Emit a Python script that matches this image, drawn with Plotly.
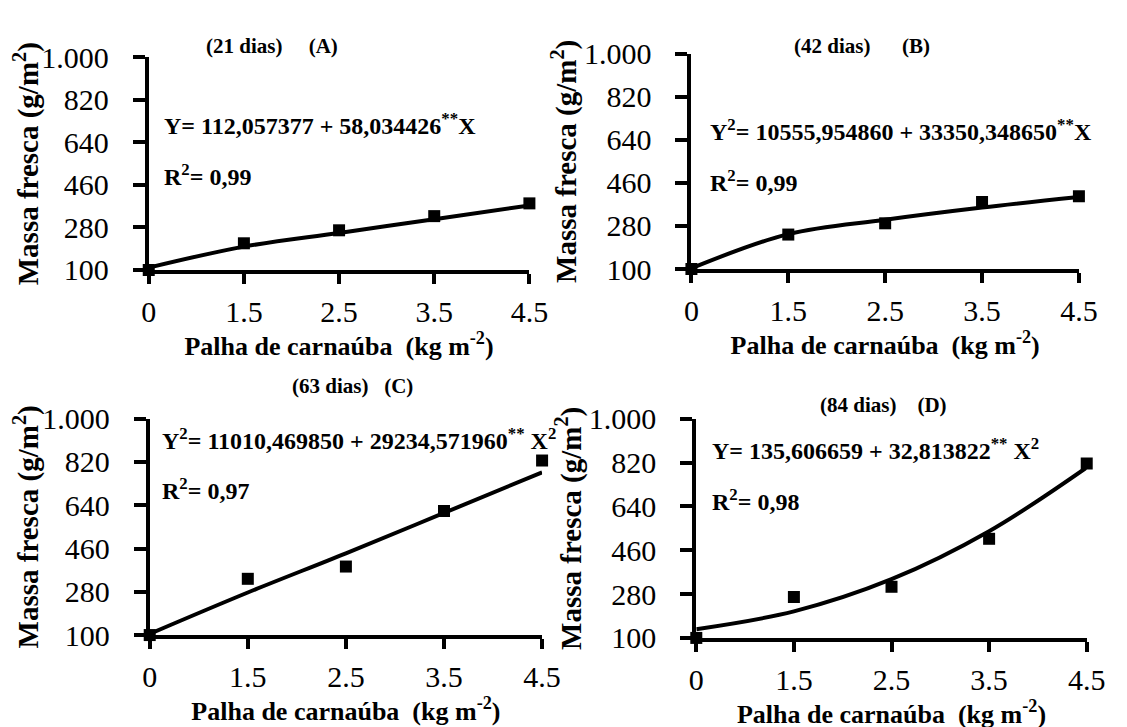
import plotly.graph_objects as go

categories = ["0", "1.5", "2.5", "3.5", "4.5"]

obs_a = [100, 213, 268, 328, 382]
fit_a = [110, 199, 257, 315, 373]
obs_b = [100, 244, 291, 380, 404]
fit_b = [103, 246, 306, 357, 401]
obs_c = [100, 334, 385, 616, 826]
fit_c = [105, 277, 440, 608, 777]
obs_d = [100, 268, 310, 507, 816]
fit_d = [136, 209, 341, 538, 800]

y_ticks = [100, 280, 460, 640, 820, 1000]
y_ticktext = ["100", "280", "460", "640", "820", "1.000"]

titles = ["(21 dias)&nbsp;&nbsp;&nbsp;&nbsp;&nbsp;(A)", "(42 dias)&nbsp;&nbsp;&nbsp;&nbsp;&nbsp;&nbsp;(B)",
          "(63 dias)&nbsp;&nbsp;&nbsp;(C)", "(84 dias)&nbsp;&nbsp;&nbsp;&nbsp;(D)"]
equations = [
    "Y= 112,057377 + 58,034426<sup>**</sup>X",
    "Y<sup>2</sup>= 10555,954860 + 33350,348650<sup>**</sup>X",
    "Y<sup>2</sup>= 11010,469850 + 29234,571960<sup>**</sup> X<sup>2</sup>",
    "Y= 135,606659 + 32,813822<sup>**</sup> X<sup>2</sup>",
]
r2_texts = ["R<sup>2</sup>= 0,99", "R<sup>2</sup>= 0,99", "R<sup>2</sup>= 0,97", "R<sup>2</sup>= 0,98"]

W, H = 1127, 727
# plot boxes in pixels: x0, x1, ytop, ybot
boxes = [(136, 526, 34, 257), (692, 1089, 30, 256), (137, 539, 413, 640), (697, 1097, 413, 643)]
title_pos = [(262, 22), (867, 22), (345, 379), (889, 399)]
eq_pos = [(150, 104), (709, 110), (148, 434), (711, 445)]
r2_pos = [(150, 157), (709, 164), (148, 487), (711, 498)]

obs = [obs_a, obs_b, obs_c, obs_d]
fits = [fit_a, fit_b, fit_c, fit_d]

FONT = "Liberation Serif"
fig = go.Figure()
layout = dict(
    width=W, height=H, margin=dict(l=0, r=0, t=0, b=0),
    paper_bgcolor="white", plot_bgcolor="white", showlegend=False,
    font=dict(family=FONT, color="black"),
)
annotations = []
for i in range(4):
    n = "" if i == 0 else str(i + 1)
    x0, x1, yt, yb = boxes[i]
    layout["xaxis" + n] = dict(
        domain=[x0 / W, x1 / W], anchor="y" + n, type="category",
        range=[0, 4], showline=True, linecolor="black", linewidth=4,
        ticks="outside", ticklen=10, tickwidth=4, tickcolor="black",
        showgrid=False, zeroline=False,
        tickfont=dict(size=30, family=FONT), ticklabelstandoff=2,
        title=dict(text="<b>Palha de carnaúba&nbsp;&nbsp;(kg m<sup>-2</sup>)</b>",
                   font=dict(size=26, family=FONT), standoff=2),
    )
    layout["yaxis" + n] = dict(
        domain=[1 - yb / H, 1 - yt / H], anchor="x" + n,
        range=[100, 1000], tickvals=y_ticks, ticktext=y_ticktext,
        showline=True, linecolor="black", linewidth=4,
        ticks="outside", ticklen=12, tickwidth=4, tickcolor="black",
        showgrid=False, zeroline=False,
        tickfont=dict(size=30, family=FONT), ticklabelstandoff=18,
        title=dict(text="<b>Massa fresca (g/m<sup>2</sup>)</b>",
                   font=dict(size=29, family=FONT), standoff=0),
    )
    fig.add_trace(go.Scatter(
        x=categories, y=fits[i], mode="lines", line=dict(color="black", width=4, shape="spline"),
        xaxis="x" + n, yaxis="y" + n, cliponaxis=False, hoverinfo="skip"))
    fig.add_trace(go.Scatter(
        x=categories, y=obs[i], mode="markers",
        marker=dict(symbol="square", size=12, color="black"),
        xaxis="x" + n, yaxis="y" + n, cliponaxis=False))
    tx, ty = title_pos[i]
    annotations.append(dict(text="<b>" + titles[i] + "</b>", x=tx / W, y=1 - ty / H,
                            xref="paper", yref="paper", showarrow=False,
                            xanchor="center", yanchor="middle", font=dict(size=21, family=FONT)))
    ex, ey = eq_pos[i]
    annotations.append(dict(text="<b>" + equations[i] + "</b>", x=ex / W, y=1 - ey / H,
                            xref="paper", yref="paper", showarrow=False,
                            xanchor="left", yanchor="middle", font=dict(size=24, family=FONT)))
    rx, ry = r2_pos[i]
    annotations.append(dict(text="<b>" + r2_texts[i] + "</b>", x=rx / W, y=1 - ry / H,
                            xref="paper", yref="paper", showarrow=False,
                            xanchor="left", yanchor="middle", font=dict(size=24, family=FONT)))

layout["annotations"] = annotations
fig.update_layout(**layout)
fig.write_html("out.html")
